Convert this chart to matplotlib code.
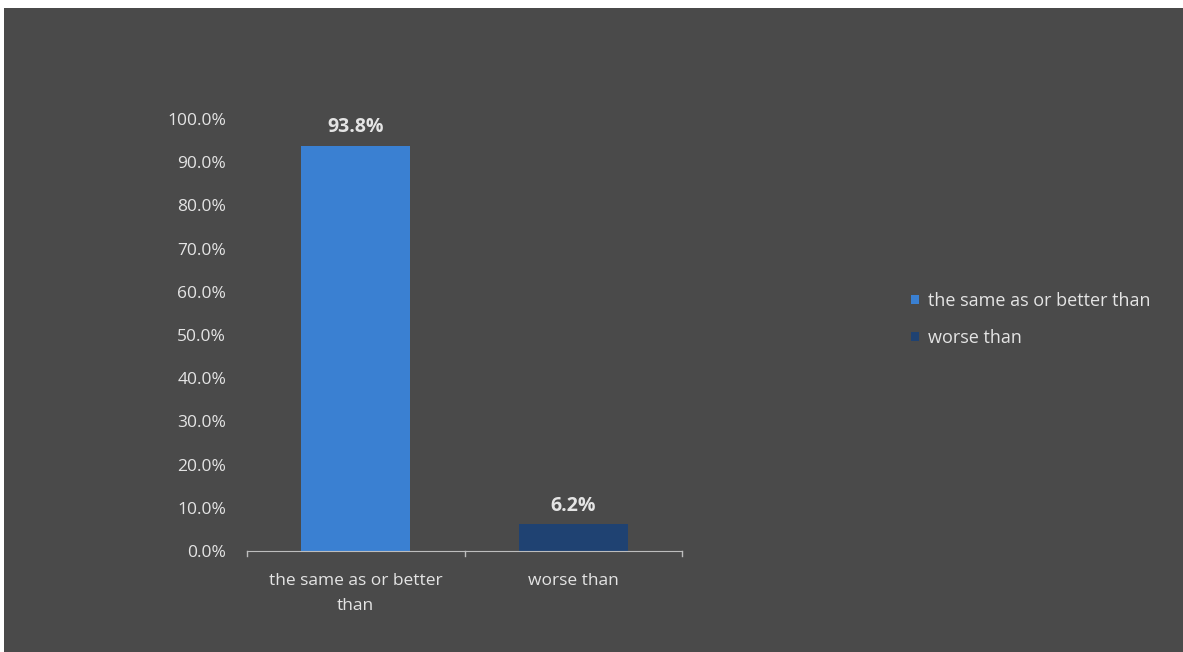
import matplotlib.pyplot as plt
from matplotlib.patches import Rectangle
from matplotlib.ticker import PercentFormatter

# dados
categorias = ["the same as or better\nthan", "worse than"]
legenda = ["the same as or better than", "worse than"]
valores = [0.938, 0.062]
rotulos = ["93.8%", "6.2%"]
cores = ["#3a80d2", "#1f4272"]

plt.rcParams['font.family'] = ['Open Sans', 'DejaVu Sans']
texto = "#e4e4e4"

fig = plt.figure(figsize=(11.83, 6.52), dpi=100, facecolor="white")
# painel escuro
fig.patches.append(Rectangle((4 / 1183, 0), 1 - 4 / 1183, 1 - 8 / 652,
                             transform=fig.transFigure, facecolor="#4a4a4a",
                             edgecolor="none", zorder=-5))

ax = fig.add_axes([0.2088, 0.1549, 0.3677, 0.6626])
ax.set_facecolor("none")
ax.set_zorder(2)

x = [0, 1]
barras = ax.bar(x, valores, width=0.5, color=cores, edgecolor="none")
for b, r, v in zip(barras, rotulos, valores):
    ax.text(b.get_x() + b.get_width() / 2, v + 0.02, r, ha="center", va="bottom",
            color=texto, fontsize=14, fontweight="bold")

ax.set_xlim(-0.5, 1.5)
ax.set_ylim(0, 1.0)
ax.set_yticks([i / 10 for i in range(11)])
ax.yaxis.set_major_formatter(PercentFormatter(1.0, decimals=1))
ax.set_xticks(x)
ax.set_xticklabels(categorias, color=texto, fontsize=12.5, linespacing=1.75)
ax.tick_params(axis="y", length=0, pad=15, labelcolor=texto, labelsize=12.5)
ax.tick_params(axis="x", length=0, pad=16)

# linhas de marcação do eixo x
for t in [-0.5, 0.5, 1.5]:
    ax.plot([t, t], [0, -0.012], color="#bdbdbd", lw=1, clip_on=False)

for s in ["top", "right", "left"]:
    ax.spines[s].set_visible(False)
ax.spines["bottom"].set_color("#bdbdbd")

leg = fig.legend(barras, legenda, loc="upper left", bbox_to_anchor=(0.756, 0.577),
                 frameon=False, fontsize=13, labelcolor=texto, handlelength=0.45,
                 handleheight=0.45, handletextpad=0.5, labelspacing=1.05)

plt.savefig("out.png", dpi=100, facecolor=fig.get_facecolor())
